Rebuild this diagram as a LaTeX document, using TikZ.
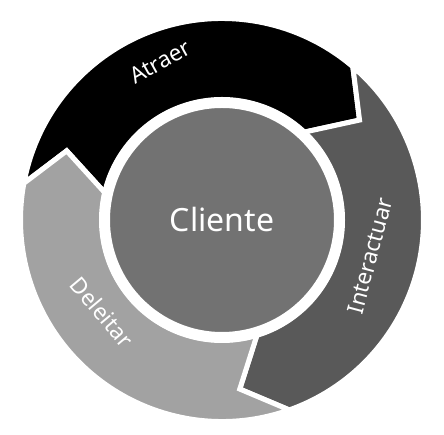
\documentclass[tikz,border=0pt]{standalone}
\usepackage{fontspec}
\setmainfont{Noto Sans}
\usepackage{tikz}
\definecolor{StageBlack}{RGB}{0,0,0}
\definecolor{StageDark}{RGB}{89,89,89}
\definecolor{StageLight}{RGB}{162,162,162}
\definecolor{CoreGray}{RGB}{114,114,114}

\begin{document}
\begin{tikzpicture}[
  x=1pt,y=1pt,
  stage/.style={draw=white,line width=5pt,line join=miter},
  stage label/.style={text=white,font=\fontsize{22.5}{26}\selectfont,inner sep=0pt},
  core/.style={circle,draw=white,line width=11pt,fill=CoreGray,minimum size=235pt,
    text=white,font=\fontsize{32}{38}\selectfont}]
\path[use as bounding box] (-222,-215) rectangle (222,220);
% three arrow segments, clockwise
\filldraw[stage,fill=StageBlack] (169.5:201.5) arc[start angle=169.5,end angle=49.5,radius=201.5]
  -- (36:170) -- (47:120) arc[start angle=47,end angle=167,radius=120] -- (156:170) -- cycle;
\filldraw[stage,fill=StageDark] (49.5:201.5) arc[start angle=49.5,end angle=-70.5,radius=201.5]
  -- (-84:170) -- (-73:120) arc[start angle=-73,end angle=47,radius=120] -- (36:170) -- cycle;
\filldraw[stage,fill=StageLight] (-70.5:201.5) arc[start angle=-70.5,end angle=-190.5,radius=201.5]
  -- (156:170) -- (167:120) arc[start angle=167,end angle=287,radius=120] -- (-84:170) -- cycle;
\node[core] (cliente) at (0,0) {Cliente};
\node[stage label,rotate=29] (atraer) at (-62,158) {Atraer};
\node[stage label,rotate=75] (interactuar) at (148,-36) {Interactuar};
\node[stage label,rotate=-50] (deleitar) at (-120,-92) {Deleitar};
\end{tikzpicture}
\end{document}
